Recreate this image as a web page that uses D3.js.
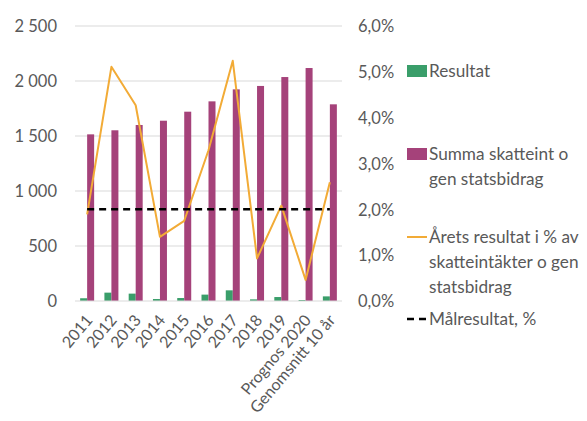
<!DOCTYPE html>
<html><head><meta charset="utf-8">
<script src="https://cdn.jsdelivr.net/npm/d3@7"></script>
<style>
html,body{margin:0;padding:0;background:#fff;}
text{font-family:Lato,"Liberation Sans",sans-serif;fill:#595959;}
</style></head>
<body>
<svg id="c" width="587" height="421"></svg>
<script>
const categories = ["2011","2012","2013","2014","2015","2016","2017","2018","2019","Prognos 2020","Genomsnitt 10 år"];
const resultat = [25, 76, 67, 18, 27, 58, 97, 15, 36, 9, 42];
const summa = [1515, 1552, 1600, 1639, 1721, 1815, 1924, 1955, 2036, 2118, 1788];
const andelPct = [1.89, 5.11, 4.27, 1.40, 1.75, 3.29, 5.24, 0.93, 2.08, 0.46, 2.59];
const malPct = [2.0, 2.0, 2.0, 2.0, 2.0, 2.0, 2.0, 2.0, 2.0, 2.0, 2.0];
const leftTicks = [0, 500, 1000, 1500, 2000, 2500];
const rightTicks = [0, 1, 2, 3, 4, 5, 6];
const legendItems = [
  {type:"rect", color:"#3a9e6a", lines:["Resultat"]},
  {type:"rect", color:"#a5427a", lines:["Summa skatteint o","gen statsbidrag"]},
  {type:"line", color:"#f2ab36", lines:["Årets resultat i % av","skatteintäkter o gen","statsbidrag"]},
  {type:"dash", color:"#000", lines:["Målresultat, %"]}
];

const svg = d3.select("#c");
const L = 75, R = 342, T = 26, B = 301;
const x = d3.scaleBand().domain(categories).range([L, R]).paddingInner(0).paddingOuter(0);
const yL = d3.scaleLinear().domain([0, 2500]).range([B, T]);
const yR = d3.scaleLinear().domain([0, 6]).range([B, T]);
const fs = 16.5, fsX = 16, fsLeg = 17.2;

// gridlines
svg.append("g").selectAll("line").data(leftTicks.filter(d=>d>0)).join("line")
  .attr("x1", L).attr("x2", R).attr("y1", d=>yL(d)).attr("y2", d=>yL(d))
  .attr("stroke", "#d9d9d9").attr("stroke-width", 1);

// left axis
const axL = d3.axisLeft(yL).tickValues(leftTicks).tickSize(0).tickPadding(0)
  .tickFormat(d => d3.format(",")(d).replace(/,/g, " "));
const gL = svg.append("g").attr("transform", `translate(57,0)`).call(axL);
gL.select(".domain").remove();
gL.selectAll("text").attr("font-size", fs).style("font-family","Lato").attr("fill","#595959").attr("dy","0.35em");

// right axis
const axR = d3.axisRight(yR).tickValues(rightTicks).tickSize(0).tickPadding(0)
  .tickFormat(d => d3.format(".1f")(d).replace(".", ",") + "%");
const gR = svg.append("g").attr("transform", `translate(358,0)`).call(axR);
gR.select(".domain").remove();
gR.selectAll("text").attr("font-size", fs).style("font-family","Lato").attr("fill","#595959").attr("dy","0.35em");

// bars
const bw = 7;
svg.append("g").selectAll("rect").data(categories).join("rect")
  .attr("x", (d)=> x(d) + x.bandwidth()/2 - bw)
  .attr("width", bw)
  .attr("y", (d,i)=> yL(resultat[i]))
  .attr("height", (d,i)=> B - yL(resultat[i]))
  .attr("fill", "#3a9e6a");
svg.append("g").selectAll("rect").data(categories).join("rect")
  .attr("x", (d)=> x(d) + x.bandwidth()/2)
  .attr("width", bw)
  .attr("y", (d,i)=> yL(summa[i]))
  .attr("height", (d,i)=> B - yL(summa[i]))
  .attr("fill", "#a5427a");

// baseline
svg.append("line").attr("x1", L).attr("x2", R).attr("y1", B).attr("y2", B)
  .attr("stroke", "#d9d9d9").attr("stroke-width", 1);

// lines
const cx = d => x(d) + x.bandwidth()/2;
const lineA = d3.line().x((d,i)=>cx(categories[i])).y(d=>yR(d));
svg.append("path").datum(andelPct).attr("d", lineA)
  .attr("fill","none").attr("stroke","#f2ab36").attr("stroke-width",2).attr("stroke-linejoin","round");
svg.append("path").datum(malPct).attr("d", lineA)
  .attr("fill","none").attr("stroke","#000").attr("stroke-width",2.5).attr("stroke-dasharray","7,5");

// x labels
svg.append("g").selectAll("text").data(categories).join("text")
  .attr("transform", d => `translate(${cx(d)+2},${B+16}) rotate(-50)`)
  .attr("text-anchor","end").attr("dy","0.35em")
  .attr("font-size", fsX).text(d=>d);

// legend
const lx = 407, lh = 25;
const firstBaselines = [77, 160, 243, 325];
legendItems.forEach((it, k) => {
  const g = svg.append("g");
  const by = firstBaselines[k];
  const my = by - 6;
  if (it.type === "rect") {
    g.append("rect").attr("x", lx).attr("y", my - 6).attr("width", 20).attr("height", 12).attr("fill", it.color);
  } else if (it.type === "line") {
    g.append("line").attr("x1", lx).attr("x2", lx+20).attr("y1", my).attr("y2", my).attr("stroke", it.color).attr("stroke-width", 2);
  } else {
    g.append("line").attr("x1", lx).attr("x2", lx+20).attr("y1", my).attr("y2", my).attr("stroke", it.color).attr("stroke-width", 2.5).attr("stroke-dasharray","7,5");
  }
  it.lines.forEach((t, j) => {
    g.append("text").attr("x", lx + 22).attr("y", by + j*lh).attr("font-size", fsLeg).text(t);
  });
});
</script>
</body></html>
